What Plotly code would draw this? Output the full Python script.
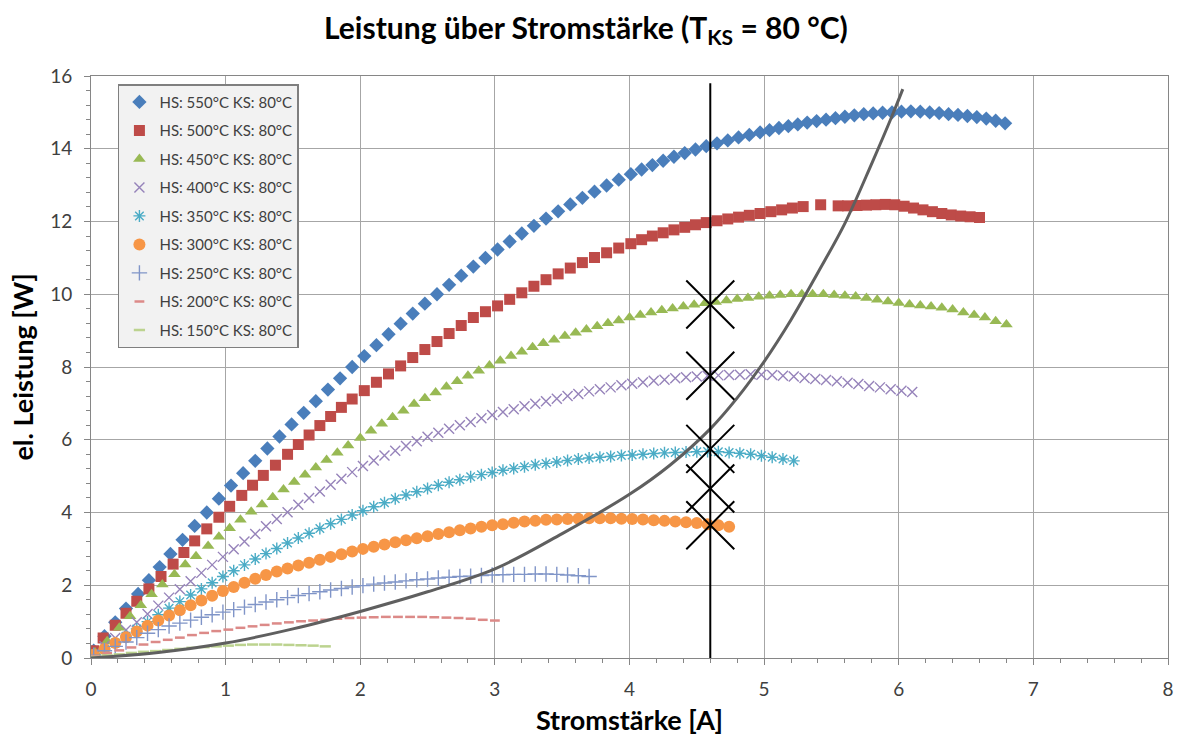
import plotly.graph_objects as go

# ---------------- data ----------------
x550 = [0.02,0.10,0.18,0.26,0.35,0.43,0.51,0.59,0.68,0.77,0.86,0.95,1.04,1.13,1.22,1.31,1.40,1.49,1.58,1.67,
        1.76,1.85,1.94,2.03,2.12,2.21,2.30,2.39,2.48,2.57,2.66,2.75,2.84,2.93,3.02,3.11,3.20,3.29,3.38,3.47,
        3.56,3.65,3.74,3.83,3.92,4.01,4.09,4.17,4.25,4.33,4.41,4.49,4.57,4.65,4.73,4.81,4.89,4.97,5.04,5.11,
        5.18,5.25,5.32,5.39,5.46,5.53,5.60,5.67,5.74,5.81,5.88,5.95,6.02,6.09,6.16,6.23,6.30,6.37,6.44,6.51,
        6.58,6.65,6.72,6.79]
y550 = [0.20,0.60,0.98,1.36,1.76,2.14,2.50,2.86,3.25,3.63,4.00,4.38,4.74,5.08,5.42,5.76,6.09,6.42,6.74,7.06,
        7.38,7.69,8.00,8.30,8.60,8.90,9.19,9.47,9.74,10.00,10.26,10.51,10.76,11.00,11.23,11.45,11.67,11.88,12.08,12.28,
        12.47,12.65,12.82,12.99,13.15,13.30,13.43,13.55,13.67,13.78,13.88,13.98,14.07,14.15,14.23,14.31,14.38,14.45,14.51,14.57,
        14.62,14.67,14.72,14.76,14.80,14.84,14.88,14.92,14.95,14.97,14.99,15.00,15.02,15.03,15.02,15.00,14.98,14.95,14.93,14.90,
        14.87,14.83,14.77,14.70]

x500 = [0.02,0.09,0.18,0.26,0.34,0.43,0.52,0.61,0.69,0.77,0.86,0.95,1.03,1.12,1.20,1.28,1.37,1.46,1.54,1.62,
        1.70,1.78,1.86,1.94,2.03,2.12,2.21,2.30,2.39,2.48,2.57,2.66,2.75,2.84,2.93,3.02,3.11,3.20,3.29,3.38,
        3.47,3.56,3.65,3.74,3.83,3.92,4.01,4.09,4.17,4.25,4.33,4.41,4.49,4.57,4.65,4.73,4.81,4.89,4.97,5.05,
        5.13,5.21,5.29,5.42,5.55,5.62,5.69,5.76,5.83,5.90,5.97,6.04,6.11,6.18,6.25,6.32,6.39,6.46,6.53,6.60]
y500 = [0.20,0.55,0.90,1.23,1.56,1.90,2.24,2.58,2.90,3.22,3.55,3.87,4.17,4.47,4.75,5.02,5.30,5.60,5.87,6.13,
        6.39,6.64,6.89,7.12,7.35,7.58,7.81,8.03,8.26,8.48,8.70,8.92,9.14,9.36,9.52,9.68,9.86,10.04,10.22,10.40,
        10.56,10.72,10.87,11.01,11.14,11.27,11.39,11.50,11.60,11.69,11.77,11.84,11.91,11.97,12.02,12.07,12.12,12.17,12.22,12.27,
        12.32,12.37,12.41,12.46,12.43,12.43,12.44,12.45,12.46,12.47,12.46,12.42,12.37,12.32,12.27,12.22,12.18,12.15,12.13,12.11]

x450 = [0.03,0.12,0.21,0.29,0.37,0.45,0.53,0.62,0.70,0.78,0.87,0.95,1.03,1.11,1.19,1.27,1.35,1.43,1.51,1.59,
        1.67,1.75,1.83,1.91,2.00,2.08,2.16,2.24,2.32,2.40,2.48,2.56,2.64,2.72,2.80,2.88,2.96,3.04,3.12,3.20,
        3.28,3.36,3.44,3.52,3.60,3.68,3.76,3.84,3.92,4.00,4.08,4.16,4.24,4.32,4.40,4.48,4.56,4.64,4.72,4.80,
        4.88,4.96,5.04,5.12,5.20,5.28,5.36,5.44,5.52,5.60,5.68,5.76,5.84,5.92,6.00,6.08,6.16,6.24,6.32,6.40,
        6.48,6.56,6.64,6.72,6.80]
y450 = [0.15,0.46,0.83,1.15,1.45,1.75,2.02,2.30,2.57,2.80,3.08,3.33,3.57,3.80,4.02,4.22,4.42,4.63,4.84,5.04,
        5.24,5.44,5.64,5.84,6.05,6.25,6.44,6.62,6.80,6.98,7.14,7.30,7.46,7.61,7.76,7.90,8.04,8.17,8.30,8.42,
        8.54,8.65,8.75,8.85,8.94,9.03,9.12,9.20,9.28,9.36,9.43,9.50,9.56,9.61,9.66,9.71,9.75,9.79,9.83,9.87,
        9.90,9.93,9.96,9.98,10.00,10.00,10.00,10.00,9.98,9.96,9.94,9.90,9.85,9.80,9.76,9.72,9.69,9.66,9.63,9.58,
        9.50,9.43,9.36,9.26,9.17]

x400 = [0.02,0.10,0.18,0.26,0.34,0.42,0.50,0.58,0.66,0.74,0.82,0.90,0.98,1.06,1.14,1.22,1.30,1.38,1.46,1.54,
        1.62,1.70,1.78,1.86,1.94,2.02,2.10,2.18,2.26,2.34,2.42,2.50,2.58,2.66,2.74,2.82,2.90,2.98,3.06,3.14,
        3.22,3.30,3.38,3.46,3.54,3.62,3.70,3.78,3.86,3.94,4.02,4.10,4.18,4.26,4.34,4.42,4.50,4.58,4.66,4.74,
        4.82,4.90,4.98,5.06,5.14,5.22,5.30,5.38,5.46,5.54,5.62,5.70,5.78,5.86,5.94,6.02,6.10]
y400 = [0.10,0.33,0.55,0.77,0.98,1.21,1.44,1.66,1.89,2.11,2.34,2.56,2.78,2.99,3.20,3.41,3.62,3.82,4.01,4.21,
        4.40,4.58,4.76,4.93,5.11,5.28,5.43,5.57,5.70,5.83,5.96,6.08,6.19,6.30,6.40,6.49,6.59,6.68,6.76,6.84,
        6.92,6.99,7.06,7.13,7.20,7.26,7.33,7.39,7.44,7.50,7.54,7.58,7.62,7.65,7.69,7.72,7.74,7.76,7.77,7.78,
        7.79,7.80,7.79,7.78,7.76,7.74,7.70,7.67,7.64,7.61,7.57,7.53,7.48,7.44,7.39,7.35,7.31]

x350 = [0.02,0.10,0.18,0.26,0.34,0.42,0.50,0.58,0.66,0.74,0.82,0.90,0.98,1.06,1.14,1.22,1.30,1.38,1.46,1.54,
        1.62,1.70,1.78,1.86,1.94,2.02,2.10,2.18,2.26,2.34,2.42,2.50,2.58,2.66,2.74,2.82,2.90,2.98,3.06,3.14,
        3.22,3.30,3.38,3.46,3.54,3.62,3.70,3.78,3.86,3.94,4.02,4.10,4.18,4.26,4.34,4.42,4.50,4.58,4.66,4.74,
        4.82,4.90,4.98,5.06,5.14,5.22]
y350 = [0.09,0.25,0.41,0.60,0.80,1.00,1.19,1.37,1.55,1.73,1.90,2.07,2.24,2.40,2.56,2.72,2.87,3.01,3.16,3.30,
        3.43,3.56,3.69,3.81,3.93,4.05,4.16,4.27,4.38,4.48,4.57,4.66,4.75,4.83,4.90,4.98,5.04,5.10,5.16,5.21,
        5.26,5.31,5.35,5.39,5.43,5.47,5.50,5.52,5.54,5.57,5.58,5.60,5.62,5.64,5.65,5.66,5.67,5.68,5.67,5.65,
        5.63,5.60,5.56,5.52,5.47,5.42]

x300 = [0.02,0.10,0.18,0.26,0.34,0.42,0.50,0.58,0.66,0.74,0.82,0.90,0.98,1.06,1.14,1.22,1.30,1.38,1.46,1.54,
        1.62,1.70,1.78,1.86,1.94,2.02,2.10,2.18,2.26,2.34,2.42,2.50,2.58,2.66,2.74,2.82,2.90,2.98,3.06,3.14,
        3.22,3.30,3.38,3.46,3.54,3.62,3.70,3.78,3.86,3.94,4.02,4.10,4.18,4.26,4.34,4.42,4.50,4.58,4.66,4.74]
y300 = [0.09,0.25,0.41,0.57,0.73,0.89,1.03,1.17,1.31,1.45,1.58,1.71,1.84,1.95,2.07,2.18,2.28,2.38,2.46,2.54,
        2.62,2.70,2.78,2.85,2.93,3.00,3.06,3.12,3.18,3.24,3.29,3.35,3.41,3.46,3.51,3.56,3.61,3.65,3.68,3.72,
        3.75,3.77,3.80,3.81,3.82,3.83,3.84,3.84,3.84,3.83,3.82,3.81,3.79,3.77,3.75,3.73,3.71,3.68,3.65,3.61]

x250 = [0.02,0.10,0.18,0.26,0.34,0.42,0.50,0.58,0.66,0.74,0.82,0.90,0.98,1.06,1.14,1.22,1.30,1.38,1.46,1.54,
        1.62,1.70,1.78,1.86,1.94,2.02,2.10,2.18,2.26,2.34,2.42,2.50,2.58,2.66,2.74,2.82,2.90,2.98,3.06,3.14,
        3.22,3.30,3.38,3.46,3.54,3.62,3.70]
y250 = [0.08,0.20,0.32,0.44,0.56,0.68,0.78,0.88,0.96,1.04,1.12,1.19,1.26,1.33,1.40,1.47,1.54,1.60,1.66,1.72,
        1.77,1.82,1.87,1.91,1.95,1.99,2.03,2.06,2.09,2.12,2.15,2.17,2.20,2.22,2.24,2.25,2.27,2.28,2.29,2.30,
        2.30,2.31,2.31,2.30,2.28,2.26,2.24]

x200 = [0.03,0.12,0.21,0.30,0.39,0.48,0.57,0.66,0.75,0.84,0.93,1.02,1.11,1.20,1.29,1.38,1.47,1.56,1.65,1.74,
        1.83,1.92,2.01,2.10,2.19,2.28,2.37,2.46,2.55,2.64,2.73,2.82,2.91,3.00]
y200 = [0.05,0.13,0.21,0.29,0.37,0.44,0.50,0.56,0.63,0.69,0.74,0.78,0.83,0.87,0.91,0.95,0.98,1.01,1.03,1.05,
        1.08,1.10,1.11,1.12,1.13,1.13,1.13,1.13,1.12,1.11,1.10,1.08,1.05,1.03]

x150 = [0.03,0.12,0.21,0.30,0.39,0.48,0.57,0.66,0.75,0.84,0.93,1.02,1.11,1.20,1.29,1.38,1.47,1.56,1.65,1.74]
y150 = [0.03,0.07,0.10,0.14,0.17,0.19,0.22,0.25,0.28,0.30,0.32,0.34,0.36,0.37,0.37,0.37,0.36,0.35,0.34,0.32]

# grey load curve
x_load = [0.0,0.5,1.0,1.5,2.0,2.5,3.0,3.5,4.0,4.3,4.6,4.8,5.0,5.2,5.4,5.6,5.8,5.95,6.03]
y_load = [0.0,0.15,0.41,0.80,1.28,1.82,2.45,3.42,4.50,5.30,6.30,7.15,8.15,9.30,10.60,11.95,13.60,14.90,15.64]

# vertical marker line and crossing points
x_line = [4.6, 4.6]
y_line = [0.0, 15.8]
x_cross = [4.6, 4.6, 4.6, 4.6, 4.6]
y_cross = [9.72, 7.76, 5.75, 4.66, 3.65]

labels = ["HS: 550°C KS: 80°C", "HS: 500°C KS: 80°C", "HS: 450°C KS: 80°C",
          "HS: 400°C KS: 80°C", "HS: 350°C KS: 80°C", "HS: 300°C KS: 80°C",
          "HS: 250°C KS: 80°C", "HS: 200°C KS: 80°C", "HS: 150°C KS: 80°C"]

FONT = "Lato"
fig = go.Figure()

series = [
    (x550, y550, dict(symbol="diamond", size=11, color="#4A7EBB")),
    (x500, y500, dict(symbol="square", size=11, color="#BE4B48")),
    (x450, y450, dict(symbol="triangle-up", size=11, color="#98B954")),
    (x400, y400, dict(symbol="x-thin", size=10, color="#9683BA", line=dict(width=1.4, color="#9683BA"))),
    (x350, y350, dict(symbol="asterisk", size=10, color="#4BACC6", line=dict(width=1.4, color="#4BACC6"))),
    (x300, y300, dict(symbol="circle", size=12, color="#F79646")),
    (x250, y250, dict(symbol="cross-thin", size=11, color="#8095C8", line=dict(width=1.4, color="#8095C8"))),
    (x200, y200, dict(symbol="line-ew", size=7, color="#DC8A88", line=dict(width=2.5, color="#DC8A88"))),
    (x150, y150, dict(symbol="line-ew", size=8, color="#BCD38F", line=dict(width=2.5, color="#BCD38F"))),
]
for i, (xs, ys, mk) in enumerate(series):
    fig.add_trace(go.Scatter(x=xs, y=ys, mode="markers", name=labels[i], marker=mk,
                             legendgroup=f"g{i}"))

fig.add_trace(go.Scatter(x=x_load, y=y_load, mode="lines", line=dict(color="#5F5F5F", width=3, shape="spline"),
                         showlegend=False))
fig.add_trace(go.Scatter(x=x_line, y=y_line, mode="lines", line=dict(color="black", width=2),
                         showlegend=False))
fig.add_trace(go.Scatter(x=x_cross, y=y_cross, mode="markers",
                         marker=dict(symbol="x-thin", size=48, color="black", line=dict(width=2, color="black")),
                         showlegend=False))

axis_common = dict(
    showgrid=True, gridcolor="#A6A6A6", gridwidth=1,
    showline=True, linecolor="#868686", linewidth=1, mirror=True,
    ticks="outside", ticklen=6, tickcolor="#868686",
    tickfont=dict(family=FONT, size=19, color="#404040"),
    zeroline=False,
)

fig.update_layout(
    width=1186, height=743,
    margin=dict(l=91, r=15, t=76, b=83),
    paper_bgcolor="white", plot_bgcolor="white",
    font=dict(family=FONT, color="#000000"),
    title=dict(text="<b>Leistung über Stromstärke (T<sub>KS</sub> = 80 °C)</b>",
               x=0.494, xref="container", xanchor="center",
               y=0.962, yref="container", yanchor="middle",
               font=dict(family=FONT, size=30, color="#000000")),
    xaxis=dict(range=[0, 8], dtick=1, tick0=0, ticklabelstandoff=8,
               minor=dict(ticks="outside", dtick=0.2, ticklen=4, tickcolor="#868686", showgrid=False),
               title=dict(text="<b>Stromstärke [A]</b>", font=dict(family=FONT, size=27, color="#000000"), standoff=12),
               **axis_common),
    yaxis=dict(range=[0, 16], dtick=2, tick0=0, ticklabelstandoff=8,
               minor=dict(ticks="outside", dtick=0.4, ticklen=4, tickcolor="#868686", showgrid=False),
               title=dict(text="<b>el. Leistung [W]</b>", font=dict(family=FONT, size=27, color="#000000"), standoff=8),
               **axis_common),
    legend=dict(x=0.025, y=0.986, xanchor="left", yanchor="top",
                bgcolor="#F2F2F2", bordercolor="#7F7F7F", borderwidth=1.5,
                font=dict(family=FONT, size=15, color="#404040"),
                tracegroupgap=6, itemwidth=30),
    showlegend=True,
)

fig.write_html("out.html")
